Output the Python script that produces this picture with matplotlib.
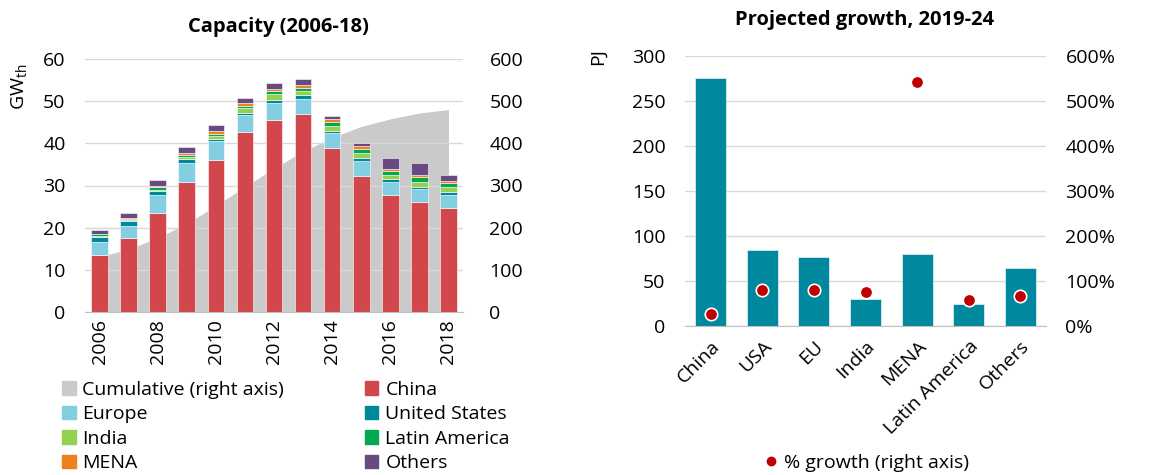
import matplotlib
matplotlib.use("Agg")
import matplotlib.pyplot as plt
import numpy as np
from matplotlib.patches import Patch
from matplotlib.lines import Line2D

plt.rcParams['font.family'] = ['Open Sans', 'DejaVu Sans']
plt.rcParams['mathtext.default'] = 'regular'
plt.rcParams['font.size'] = 14

# ---- left panel data (GW_th) ----
years = list(range(2006, 2019))
china = [13.6, 17.5, 23.4, 30.9, 36.1, 42.7, 45.6, 47.0, 38.8, 32.3, 27.7, 26.0, 24.7]
europe = [2.9, 3.0, 4.3, 4.4, 4.4, 4.0, 4.0, 3.6, 3.7, 3.6, 3.2, 3.1, 3.0]
usa = [1.3, 1.0, 0.9, 1.0, 0.6, 0.6, 0.7, 0.9, 0.5, 0.6, 0.7, 0.6, 0.7]
india = [0.2, 0.3, 0.4, 0.4, 0.7, 1.1, 1.3, 0.8, 1.1, 1.3, 1.0, 1.2, 1.3]
latam = [0.4, 0.3, 0.6, 0.5, 0.5, 0.5, 0.7, 0.9, 0.9, 0.9, 0.9, 1.0, 1.0]
mena = [0.2, 0.3, 0.4, 0.6, 0.6, 0.7, 0.6, 0.6, 0.7, 0.7, 0.4, 0.5, 0.4]
others = [0.9, 1.1, 1.2, 1.3, 1.4, 1.1, 1.4, 1.4, 0.9, 0.7, 2.7, 2.9, 1.5]
cumulative = [131, 149, 176, 210, 252, 297, 341, 381, 414, 440, 458, 472, 480]

# ---- right panel data ----
regions = ['China', 'USA', 'EU', 'India', 'MENA', 'Latin America', 'Others']
growth_pj = [275.5, 85, 77, 29.7, 80, 24.8, 65]
growth_pct = [27, 79, 79, 76, 543, 57, 67]

c_china = '#D2474B'
c_europe = '#83CFE1'
c_usa = '#00889E'
c_india = '#92D050'
c_latam = '#00A84F'
c_mena = '#F07F1D'
c_others = '#684A80'
c_cum = '#CACACA'
grid_c = '#D9D9D9'

fig = plt.figure(figsize=(11.56, 4.75), dpi=100)
W, H = 1156, 475

def box(l, t, r, b):
    return [l / W, 1 - b / H, (r - l) / W, (b - t) / H]

# ================= left panel =================
ax = fig.add_axes(box(85, 59, 463, 312))
ax2 = ax.twinx()
x = np.arange(len(years))
ax2.fill_between(x, cumulative, color=c_cum, lw=0)
ax2.set_ylim(0, 600)
ax2.set_yticks(range(0, 601, 100))
ax.set_zorder(ax2.get_zorder() + 1)
ax.patch.set_visible(False)

series = [(china, c_china), (europe, c_europe), (usa, c_usa), (india, c_india),
          (latam, c_latam), (mena, c_mena), (others, c_others)]
bottom = np.zeros(len(years))
for vals, col in series:
    ax.bar(x, vals, 0.57, bottom=bottom, color=col, edgecolor='white', linewidth=0.4)
    bottom += np.array(vals)

ax.set_ylim(0, 60)
ax.set_yticks(range(0, 61, 10))
ax.set_xlim(-0.5, 12.5)
ax.set_xticks(x[::2])
ax.set_xticklabels([str(y) for y in years[::2]], rotation=90)
ax.set_axisbelow(True)
ax.yaxis.grid(True, color=grid_c, lw=1)
for a in (ax, ax2):
    for s in ('top', 'left', 'right'):
        a.spines[s].set_visible(False)
    a.spines['bottom'].set_color('#BFBFBF')
    a.tick_params(length=0, pad=5)
ax2.spines['bottom'].set_visible(False)
ax.tick_params(axis='y', pad=14)
ax2.tick_params(axis='y', pad=19)

fig.text(278 / W, 1 - 27 / H, 'Capacity (2006-18)', ha='center', va='center',
         fontweight='bold', fontsize=14.5)
fig.text(19 / W, 1 - 87 / H, 'GW$_{th}$', rotation=90, ha='center', va='center', fontsize=14)

handles = [Patch(color=c_cum), Patch(color=c_europe), Patch(color=c_india), Patch(color=c_mena),
           Patch(color=c_china), Patch(color=c_usa), Patch(color=c_latam), Patch(color=c_others)]
labels = ['Cumulative (right axis)', 'Europe', 'India', 'MENA',
          'China', 'United States', 'Latin America', 'Others']
fig.legend(handles, labels, ncol=2, loc='upper left', bbox_to_anchor=(62 / W, 1 - 381 / H),
           frameon=False, handlelength=0.7, handleheight=0.7, handletextpad=0.35,
           labelspacing=0.33, columnspacing=4.15, borderpad=0, borderaxespad=0)

# ================= right panel =================
bx = fig.add_axes(box(685, 56, 1046, 326))
bx2 = bx.twinx()
xr = np.arange(len(regions))
bx.bar(xr, growth_pj, 0.6, color=c_usa, edgecolor='white', linewidth=0.4)
bx2.scatter(xr, growth_pct, s=80, color='#C00000', edgecolor='white', linewidth=1.2, zorder=3)
bx.set_ylim(0, 300)
bx.set_yticks(range(0, 301, 50))
bx2.set_ylim(0, 600)
bx2.set_yticks(range(0, 601, 100))
bx2.set_yticklabels([f'{v}%' for v in range(0, 601, 100)])
bx.set_xlim(-0.5, 6.5)
bx.set_xticks(xr)
bx.set_xticklabels(regions, rotation=45, ha='right', rotation_mode='anchor')
bx.set_axisbelow(True)
bx.yaxis.grid(True, color=grid_c, lw=1)
for a in (bx, bx2):
    for s in ('top', 'left', 'right'):
        a.spines[s].set_visible(False)
    a.spines['bottom'].set_color('#BFBFBF')
    a.tick_params(length=0, pad=8)
bx2.spines['bottom'].set_visible(False)
bx.tick_params(axis='y', pad=14)
bx2.tick_params(axis='y', pad=14)

fig.text(865 / W, 1 - 20 / H, 'Projected growth, 2019-24', ha='center', va='center',
         fontweight='bold', fontsize=14.5)
fig.text(598 / W, 1 - 57 / H, 'PJ', rotation=90, ha='center', va='center', fontsize=14)

fig.legend([Line2D([], [], marker='o', color='#C00000', ls='', markersize=6)],
           ['% growth (right axis)'], loc='center', bbox_to_anchor=(865 / W, 1 - 463 / H),
           frameon=False, handletextpad=0.2, borderpad=0, handlelength=1)

fig.savefig('out.png', dpi=100)
